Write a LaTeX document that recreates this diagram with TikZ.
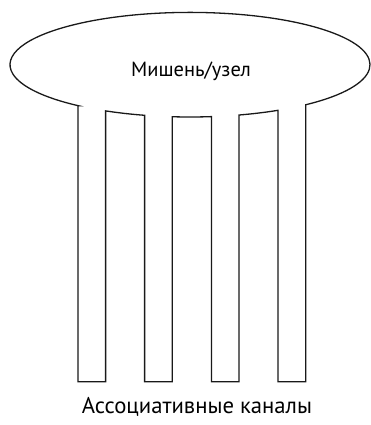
\documentclass[tikz,border=0pt]{standalone}
\usepackage{fontspec}
\setmainfont{PT Sans}
\begin{document}
\begin{tikzpicture}[x=1pt,y=1pt,
  outline/.style={draw=black!90,line width=1.3pt,line join=miter},
  lbl/.style={inner sep=0pt,anchor=base,font=\fontsize{20.5}{24}\selectfont}]
\useasboundingbox (0,0) rectangle (371,425);
\def\cx{190}\def\cy{360.3}\def\ra{180}\def\rb{52.3}\def\yb{43.3}
% leg edges
\def\la{78}\def\lb{105.6}\def\lc{144.6}\def\ld{172.3}
\def\le{211.5}\def\lf{239}\def\lg{278}\def\lh{305.7}
\foreach \n/\x in {a/\la,b/\lb,c/\lc,d/\ld,e/\le,f/\lf,g/\lg,h/\lh}{
  \pgfmathsetmacro{\t}{360-acos((\x-\cx)/\ra)}
  \expandafter\xdef\csname ang\n\endcsname{\t}
}
\draw[outline]
  (\cx,\cy) ++({\ra*cos(\anga)},{\rb*sin(\anga)}) coordinate (p1)
  -- (\la,\yb) -- (\lb,\yb)
  -- ({\lb},{\cy+\rb*sin(\angb)})
  arc[start angle=\angb,end angle=\angc,x radius=\ra,y radius=\rb]
  -- (\lc,\yb) -- (\ld,\yb)
  -- ({\ld},{\cy+\rb*sin(\angd)})
  arc[start angle=\angd,end angle=\ange,x radius=\ra,y radius=\rb]
  -- (\le,\yb) -- (\lf,\yb)
  -- ({\lf},{\cy+\rb*sin(\angf)})
  arc[start angle=\angf,end angle=\angg,x radius=\ra,y radius=\rb]
  -- (\lg,\yb) -- (\lh,\yb)
  -- ({\lh},{\cy+\rb*sin(\angh)})
  arc[start angle=\angh,end angle={\anga+360},x radius=\ra,y radius=\rb]
  -- cycle;
\node[lbl] (target) at (191,348) {Мишень/узел};
\node[lbl,font=\fontsize{22.7}{26}\selectfont] (channels) at (197,11) {Ассоциативные каналы};
\end{tikzpicture}
\end{document}
